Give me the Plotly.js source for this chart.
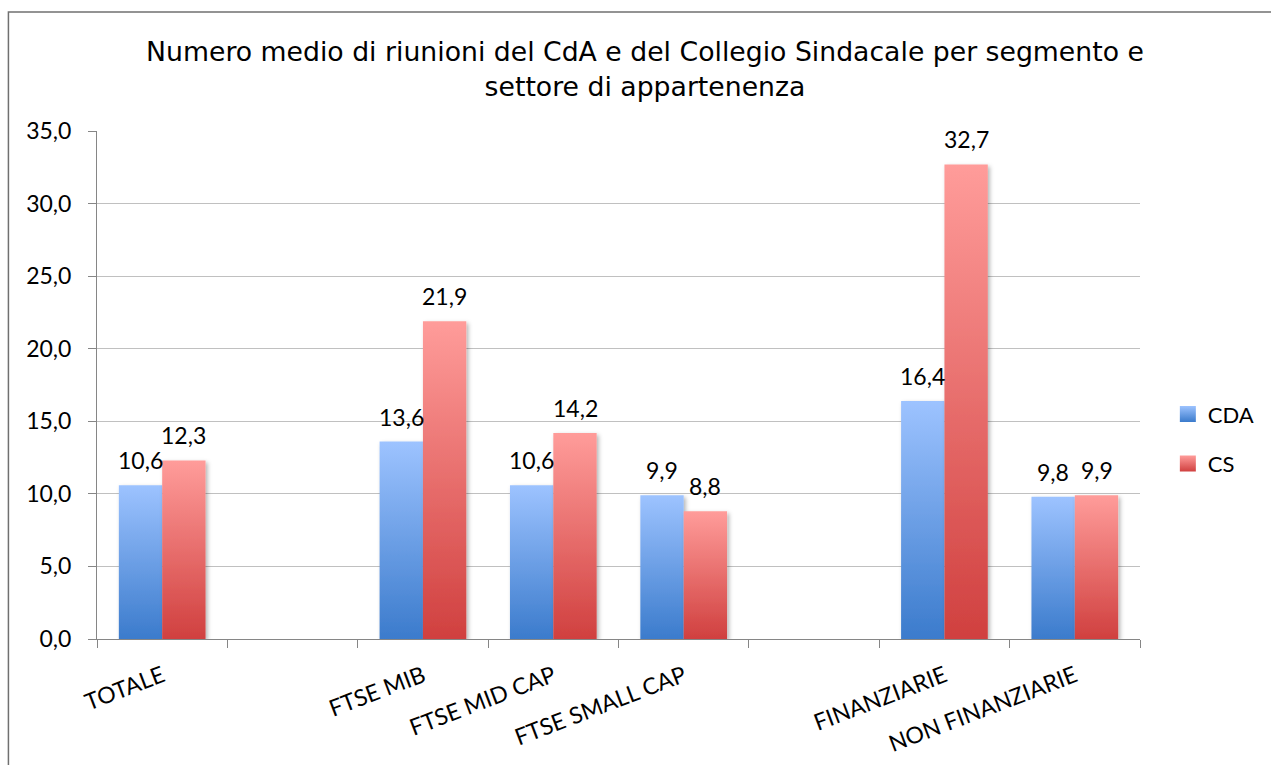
<!DOCTYPE html>
<html>
<head>
<meta charset="utf-8">
<script src="https://cdn.plot.ly/plotly-3.0.1.min.js"></script>
<style>
  html, body { margin: 0; padding: 0; background: #fff; }
  #chart { width: 1271px; height: 765px; }
</style>
</head>
<body>
<div id="chart"></div>
<script>
// ---- data ----
const categories = ['TOTALE', ' ', 'FTSE MIB', 'FTSE MID CAP', 'FTSE SMALL CAP', '  ', 'FINANZIARIE', 'NON FINANZIARIE'];
const cdaValues = [10.6, null, 13.6, 10.6, 9.9, null, 16.4, 9.8];
const csValues  = [12.3, null, 21.9, 14.2, 8.8, null, 32.7, 9.9];
const seriesNames = ['CDA', 'CS'];
const yTicks = [0, 5, 10, 15, 20, 25, 30, 35];
const titleText = 'Numero medio di riunioni del CdA e del Collegio Sindacale per segmento e<br>settore di appartenenza';

const labelFont = 'Lato, "Open Sans", sans-serif';

function fmt(v) { return v.toFixed(1).replace('.', ','); }

const traces = [
  { type: 'bar', name: seriesNames[0], x: categories, y: cdaValues, marker: { color: '#6d9ee6' }, legendgroup: 'a', hoverinfo: 'skip' },
  { type: 'bar', name: seriesNames[1], x: categories, y: csValues, marker: { color: '#ea7472' }, legendgroup: 'b', hoverinfo: 'skip' }
];

const annotations = [];
const offsets = [-21.8, 21.8];
[cdaValues, csValues].forEach((vals, s) => {
  vals.forEach((v, i) => {
    if (v === null) return;
    annotations.push({
      x: categories[i], y: v, xref: 'x', yref: 'y',
      xshift: offsets[s], yshift: 9,
      yanchor: 'bottom', xanchor: 'center',
      text: fmt(v), showarrow: false,
      font: { family: labelFont, size: 23, color: '#000' }
    });
  });
});

const layout = {
  width: 1271, height: 765,
  margin: { l: 97, r: 126, t: 131, b: 126 },
  paper_bgcolor: '#ffffff', plot_bgcolor: '#ffffff',
  separators: ',.',
  title: {
    text: titleText,
    font: { family: '"DejaVu Sans", Verdana, sans-serif', size: 26.7, color: '#000' },
    x: 645 / 1271, xref: 'container', xanchor: 'center',
    y: 1 - 61 / 765, yref: 'container', yanchor: 'top'
  },
  barmode: 'group', bargap: 0.335, bargroupgap: 0,
  xaxis: {
    type: 'category', categoryorder: 'array', categoryarray: categories,
    tickson: 'boundaries', ticks: 'outside', ticklen: 8, tickcolor: '#868686',
    showline: true, linecolor: '#868686', linewidth: 1,
    showgrid: false, tickangle: -21,
    ticklabelstandoff: 14,
    tickfont: { family: labelFont, size: 23, color: '#000' }
  },
  yaxis: {
    range: [0, 35], tickvals: yTicks, tickformat: '.1f',
    ticks: 'outside', ticklen: 8, tickcolor: '#868686',
    showline: true, linecolor: '#868686', linewidth: 1,
    showgrid: true, gridcolor: '#c0c0c0', gridwidth: 1, zeroline: false,
    ticklabelstandoff: 12,
    tickfont: { family: labelFont, size: 23, color: '#000' }
  },
  showlegend: true,
  legend: {
    x: 1.0267, xanchor: 'left', y: 0.484, yanchor: 'top',
    font: { family: labelFont, size: 22, color: '#000' },
    traceorder: 'grouped', tracegroupgap: 18, itemwidth: 30,
    bgcolor: 'rgba(0,0,0,0)'
  },
  annotations: annotations,
  shapes: [{
    type: 'rect', xref: 'paper', yref: 'paper', layer: 'below',
    x0: (8 - 97) / 1048, x1: (1300 - 97) / 1048,
    y0: (639 - 800) / 508, y1: (639 - 12) / 508,
    line: { color: '#707070', width: 1.5 }, fillcolor: 'rgba(0,0,0,0)'
  }]
};

Plotly.newPlot('chart', traces, layout, { staticPlot: true, displayModeBar: false }).then(() => {
  const svg = document.querySelector('#chart .main-svg');
  const NS = 'http://www.w3.org/2000/svg';
  let defs = svg.querySelector('defs');
  if (!defs) { defs = document.createElementNS(NS, 'defs'); svg.insertBefore(defs, svg.firstChild); }
  function grad(id, top, bottom) {
    const g = document.createElementNS(NS, 'linearGradient');
    g.setAttribute('id', id);
    g.setAttribute('x1', '0'); g.setAttribute('y1', '0');
    g.setAttribute('x2', '0'); g.setAttribute('y2', '1');
    const s1 = document.createElementNS(NS, 'stop');
    s1.setAttribute('offset', '0'); s1.setAttribute('stop-color', top);
    const s2 = document.createElementNS(NS, 'stop');
    s2.setAttribute('offset', '1'); s2.setAttribute('stop-color', bottom);
    g.appendChild(s1); g.appendChild(s2);
    defs.appendChild(g);
  }
  grad('gBlue', '#9dc3ff', '#3b7bcc');
  grad('gRed', '#ff9c9a', '#d0403f');
  const f = document.createElementNS(NS, 'filter');
  f.setAttribute('id', 'barShadow');
  f.setAttribute('x', '-20%'); f.setAttribute('y', '-10%');
  f.setAttribute('width', '150%'); f.setAttribute('height', '130%');
  const ds = document.createElementNS(NS, 'feDropShadow');
  ds.setAttribute('dx', '2'); ds.setAttribute('dy', '2');
  ds.setAttribute('stdDeviation', '2');
  ds.setAttribute('flood-color', '#000'); ds.setAttribute('flood-opacity', '0.3');
  f.appendChild(ds); defs.appendChild(f);

  const ids = ['gBlue', 'gRed'];
  document.querySelectorAll('#chart .barlayer .trace').forEach((t, k) => {
    t.querySelectorAll('path').forEach(p => {
      p.style.fill = 'url(#' + ids[k] + ')';
      p.setAttribute('filter', 'url(#barShadow)');
    });
  });
  document.querySelectorAll('#chart .legend .traces').forEach((t, k) => {
    t.querySelectorAll('.legendpoints path').forEach(p => {
      p.setAttribute('d', 'M8,8H-8V-8H8Z');
      p.style.fill = 'url(#' + ids[k] + ')';
      p.style.stroke = 'none';
    });
  });
});
</script>
</body>
</html>
